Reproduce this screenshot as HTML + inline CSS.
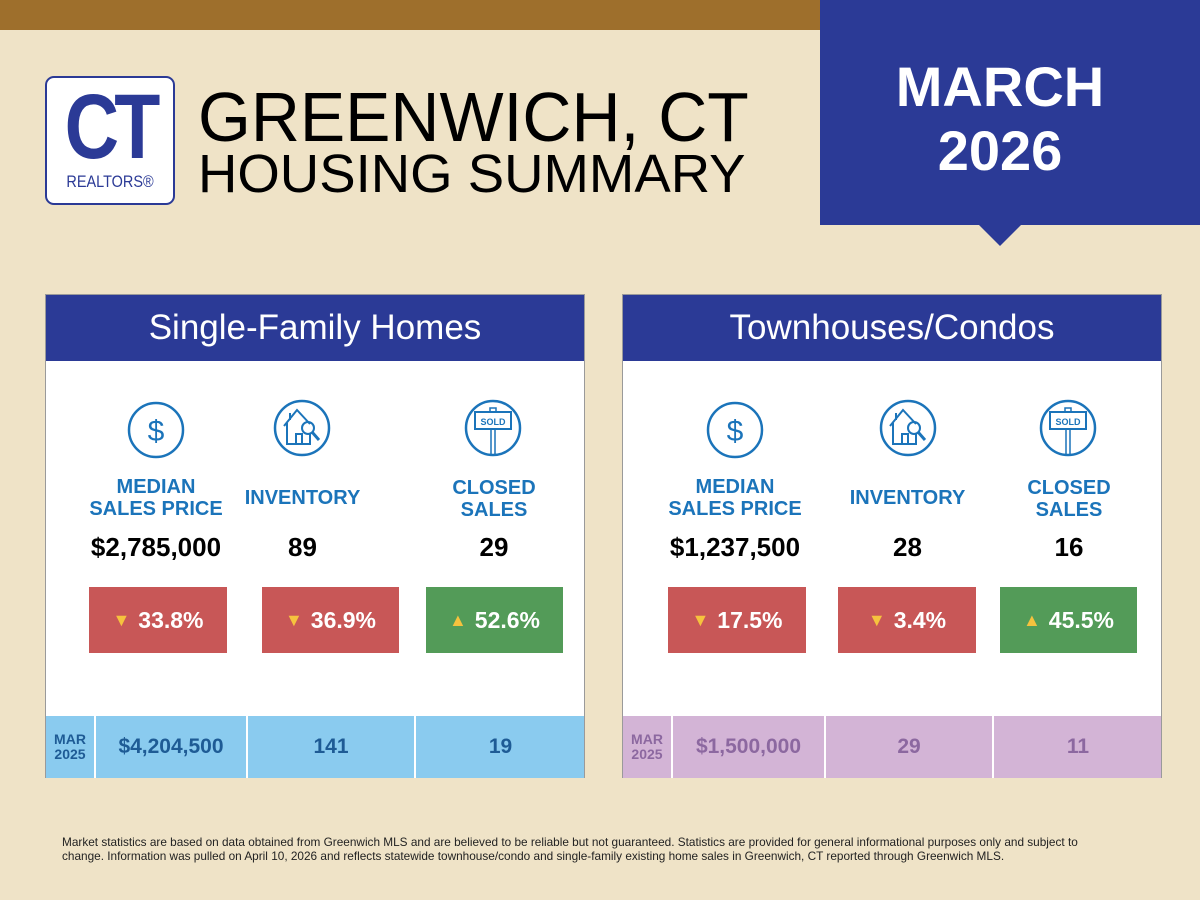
<!DOCTYPE html>
<html><head><meta charset="utf-8"><style>
*{margin:0;padding:0;box-sizing:border-box}
body{width:1200px;height:900px;background:#EFE3C7;position:relative;overflow:hidden;font-family:"Liberation Sans",sans-serif}
.a{position:absolute}
.c{text-align:center}
.lbl{color:#1B74BA;font-weight:bold;font-size:20px;line-height:22px;text-align:center;position:absolute}
.val{font-weight:bold;font-size:26px;color:#000;text-align:center;position:absolute}
.box{position:absolute;height:66px;color:#fff;font-weight:bold;font-size:23px;display:flex;align-items:center;justify-content:center;gap:8px}
.red{background:#C85757}.grn{background:#539B58}
.panel{position:absolute;top:294px;width:540px;height:484px;background:#fff;border:1px solid #9a9a9a}
.hdr{position:absolute;left:0;top:0;width:100%;height:66px;background:#2B3A96;color:#fff;font-size:35px;text-align:center;line-height:66px}
.row{position:absolute;top:421px;left:0;width:100%;height:62px}
.cell{position:absolute;top:0;height:62px;display:flex;align-items:center;justify-content:center;font-weight:bold;font-size:21px;border-left:2px solid #fff}
.mar{font-size:14px;line-height:15px;text-align:center}
</style></head><body>
<div class="a" style="left:0;top:0;width:820px;height:30px;background:#9E6F2C"></div>
<div class="a" style="left:820px;top:0;width:380px;height:225px;background:#2B3A96"></div>
<div class="a" style="left:978px;top:224px;width:0;height:0;border-left:22px solid transparent;border-right:22px solid transparent;border-top:22px solid #2B3A96"></div>
<div class="a c" style="left:820px;top:55px;width:360px;color:#fff;font-weight:bold;font-size:56px;line-height:64px">MARCH<br>2026</div>

<div class="a" style="left:45px;top:76px;width:130px;height:129px;background:#fff;border:2px solid #2B3A96;border-radius:9px"></div>
<div class="a c" style="left:47px;top:82px;width:126px;color:#2B3A96;font-weight:bold;font-size:92px;line-height:90px;letter-spacing:-6px;transform:scaleX(0.82)">CT</div>
<div class="a c" style="left:47px;top:172px;width:126px;color:#2B3A96;font-size:17px;transform:scaleX(0.85)">REALTORS®</div>

<div class="a" style="left:198px;top:82px;font-size:70px;line-height:70px;color:#000;white-space:nowrap;transform:scaleX(0.97);transform-origin:left">GREENWICH, CT</div>
<div class="a" style="left:198px;top:147px;font-size:54px;line-height:54px;color:#000;white-space:nowrap;transform:scaleX(1.01);transform-origin:left">HOUSING SUMMARY</div>

<!-- Left panel -->
<div class="panel" style="left:45px">
 <div class="hdr">Single-Family Homes</div>
 <div class="row" style="background:#8ACBEF;color:#1E5B95">
  <div class="cell mar" style="left:0;width:48px;border-left:none">MAR<br>2025</div>
  <div class="cell" style="left:48px;width:152px">$4,204,500</div>
  <div class="cell" style="left:200px;width:168px">141</div>
  <div class="cell" style="left:368px;width:171px">19</div>
 </div>
</div>
<!-- Right panel -->
<div class="panel" style="left:622px">
 <div class="hdr">Townhouses/Condos</div>
 <div class="row" style="background:#D3B4D6;color:#8C68A0">
  <div class="cell mar" style="left:0;width:48px;border-left:none">MAR<br>2025</div>
  <div class="cell" style="left:48px;width:153px">$1,500,000</div>
  <div class="cell" style="left:201px;width:168px">29</div>
  <div class="cell" style="left:369px;width:170px">11</div>
 </div>
</div>

<svg class="a" style="left:0;top:0" width="1200" height="900">
 <defs>
  <g id="dol" fill="none" stroke="#1B74BA" stroke-width="2.5"><circle r="27"/><text x="0" y="11" font-size="30" text-anchor="middle" fill="#1B74BA" stroke="none" font-family="Liberation Sans">$</text></g>
  <g id="hou" fill="none" stroke="#1B74BA" stroke-width="2.5"><circle r="27"/><path d="M-18,-2 L-5,-18 L8,-4 M-15,-5 V16 H8 V6 M-12,-15 V-8 M-6,16 V6 H0 V16" stroke-width="2"/><circle cx="6" cy="0" r="6" stroke-width="2"/><path d="M10,4 L17,12" stroke-width="3"/></g>
  <g id="sld" fill="none" stroke="#1B74BA" stroke-width="2.5"><circle r="27"/><rect x="-18" y="-16" width="36" height="17" stroke-width="2"/><path d="M-2,1 V27 M2,1 V27 M-3,-16 V-20 H3 V-16" stroke-width="1.5"/><text x="0" y="-3" font-size="9" font-weight="bold" text-anchor="middle" fill="#1B74BA" stroke="none" font-family="Liberation Sans">SOLD</text></g>
 </defs>
 <use href="#dol" x="156" y="430"/><use href="#hou" x="302" y="428"/><use href="#sld" x="493" y="428"/>
 <use href="#dol" x="735" y="430"/><use href="#hou" x="908" y="428"/><use href="#sld" x="1068" y="428"/>
</svg>

<div class="lbl" style="left:56px;top:476px;width:200px">MEDIAN<br>SALES PRICE</div>
<div class="lbl" style="left:230px;top:487px;width:145px">INVENTORY</div>
<div class="lbl" style="left:414px;top:477px;width:160px">CLOSED<br>SALES</div>
<div class="val" style="left:56px;top:532px;width:200px">$2,785,000</div>
<div class="val" style="left:230px;top:532px;width:145px">89</div>
<div class="val" style="left:414px;top:532px;width:160px">29</div>
<div class="box red" style="left:89px;top:587px;width:138px"><span style="color:#F6C23E;font-size:18px">▼</span>33.8%</div>
<div class="box red" style="left:262px;top:587px;width:137px"><span style="color:#F6C23E;font-size:18px">▼</span>36.9%</div>
<div class="box grn" style="left:426px;top:587px;width:137px"><span style="color:#F6C23E;font-size:18px">▲</span>52.6%</div>

<div class="lbl" style="left:635px;top:476px;width:200px">MEDIAN<br>SALES PRICE</div>
<div class="lbl" style="left:835px;top:487px;width:145px">INVENTORY</div>
<div class="lbl" style="left:989px;top:477px;width:160px">CLOSED<br>SALES</div>
<div class="val" style="left:635px;top:532px;width:200px">$1,237,500</div>
<div class="val" style="left:835px;top:532px;width:145px">28</div>
<div class="val" style="left:989px;top:532px;width:160px">16</div>
<div class="box red" style="left:668px;top:587px;width:138px"><span style="color:#F6C23E;font-size:18px">▼</span>17.5%</div>
<div class="box red" style="left:838px;top:587px;width:138px"><span style="color:#F6C23E;font-size:18px">▼</span>3.4%</div>
<div class="box grn" style="left:1000px;top:587px;width:137px"><span style="color:#F6C23E;font-size:18px">▲</span>45.5%</div>

<div class="a" style="left:62px;top:835px;width:1045px;font-size:11.8px;line-height:14px;color:#222">Market statistics are based on data obtained from Greenwich MLS and are believed to be reliable but not guaranteed. Statistics are provided for general informational purposes only and subject to change. Information was pulled on April 10, 2026 and reflects statewide townhouse/condo and single-family existing home sales in Greenwich, CT reported through Greenwich MLS.</div>
</body></html>
